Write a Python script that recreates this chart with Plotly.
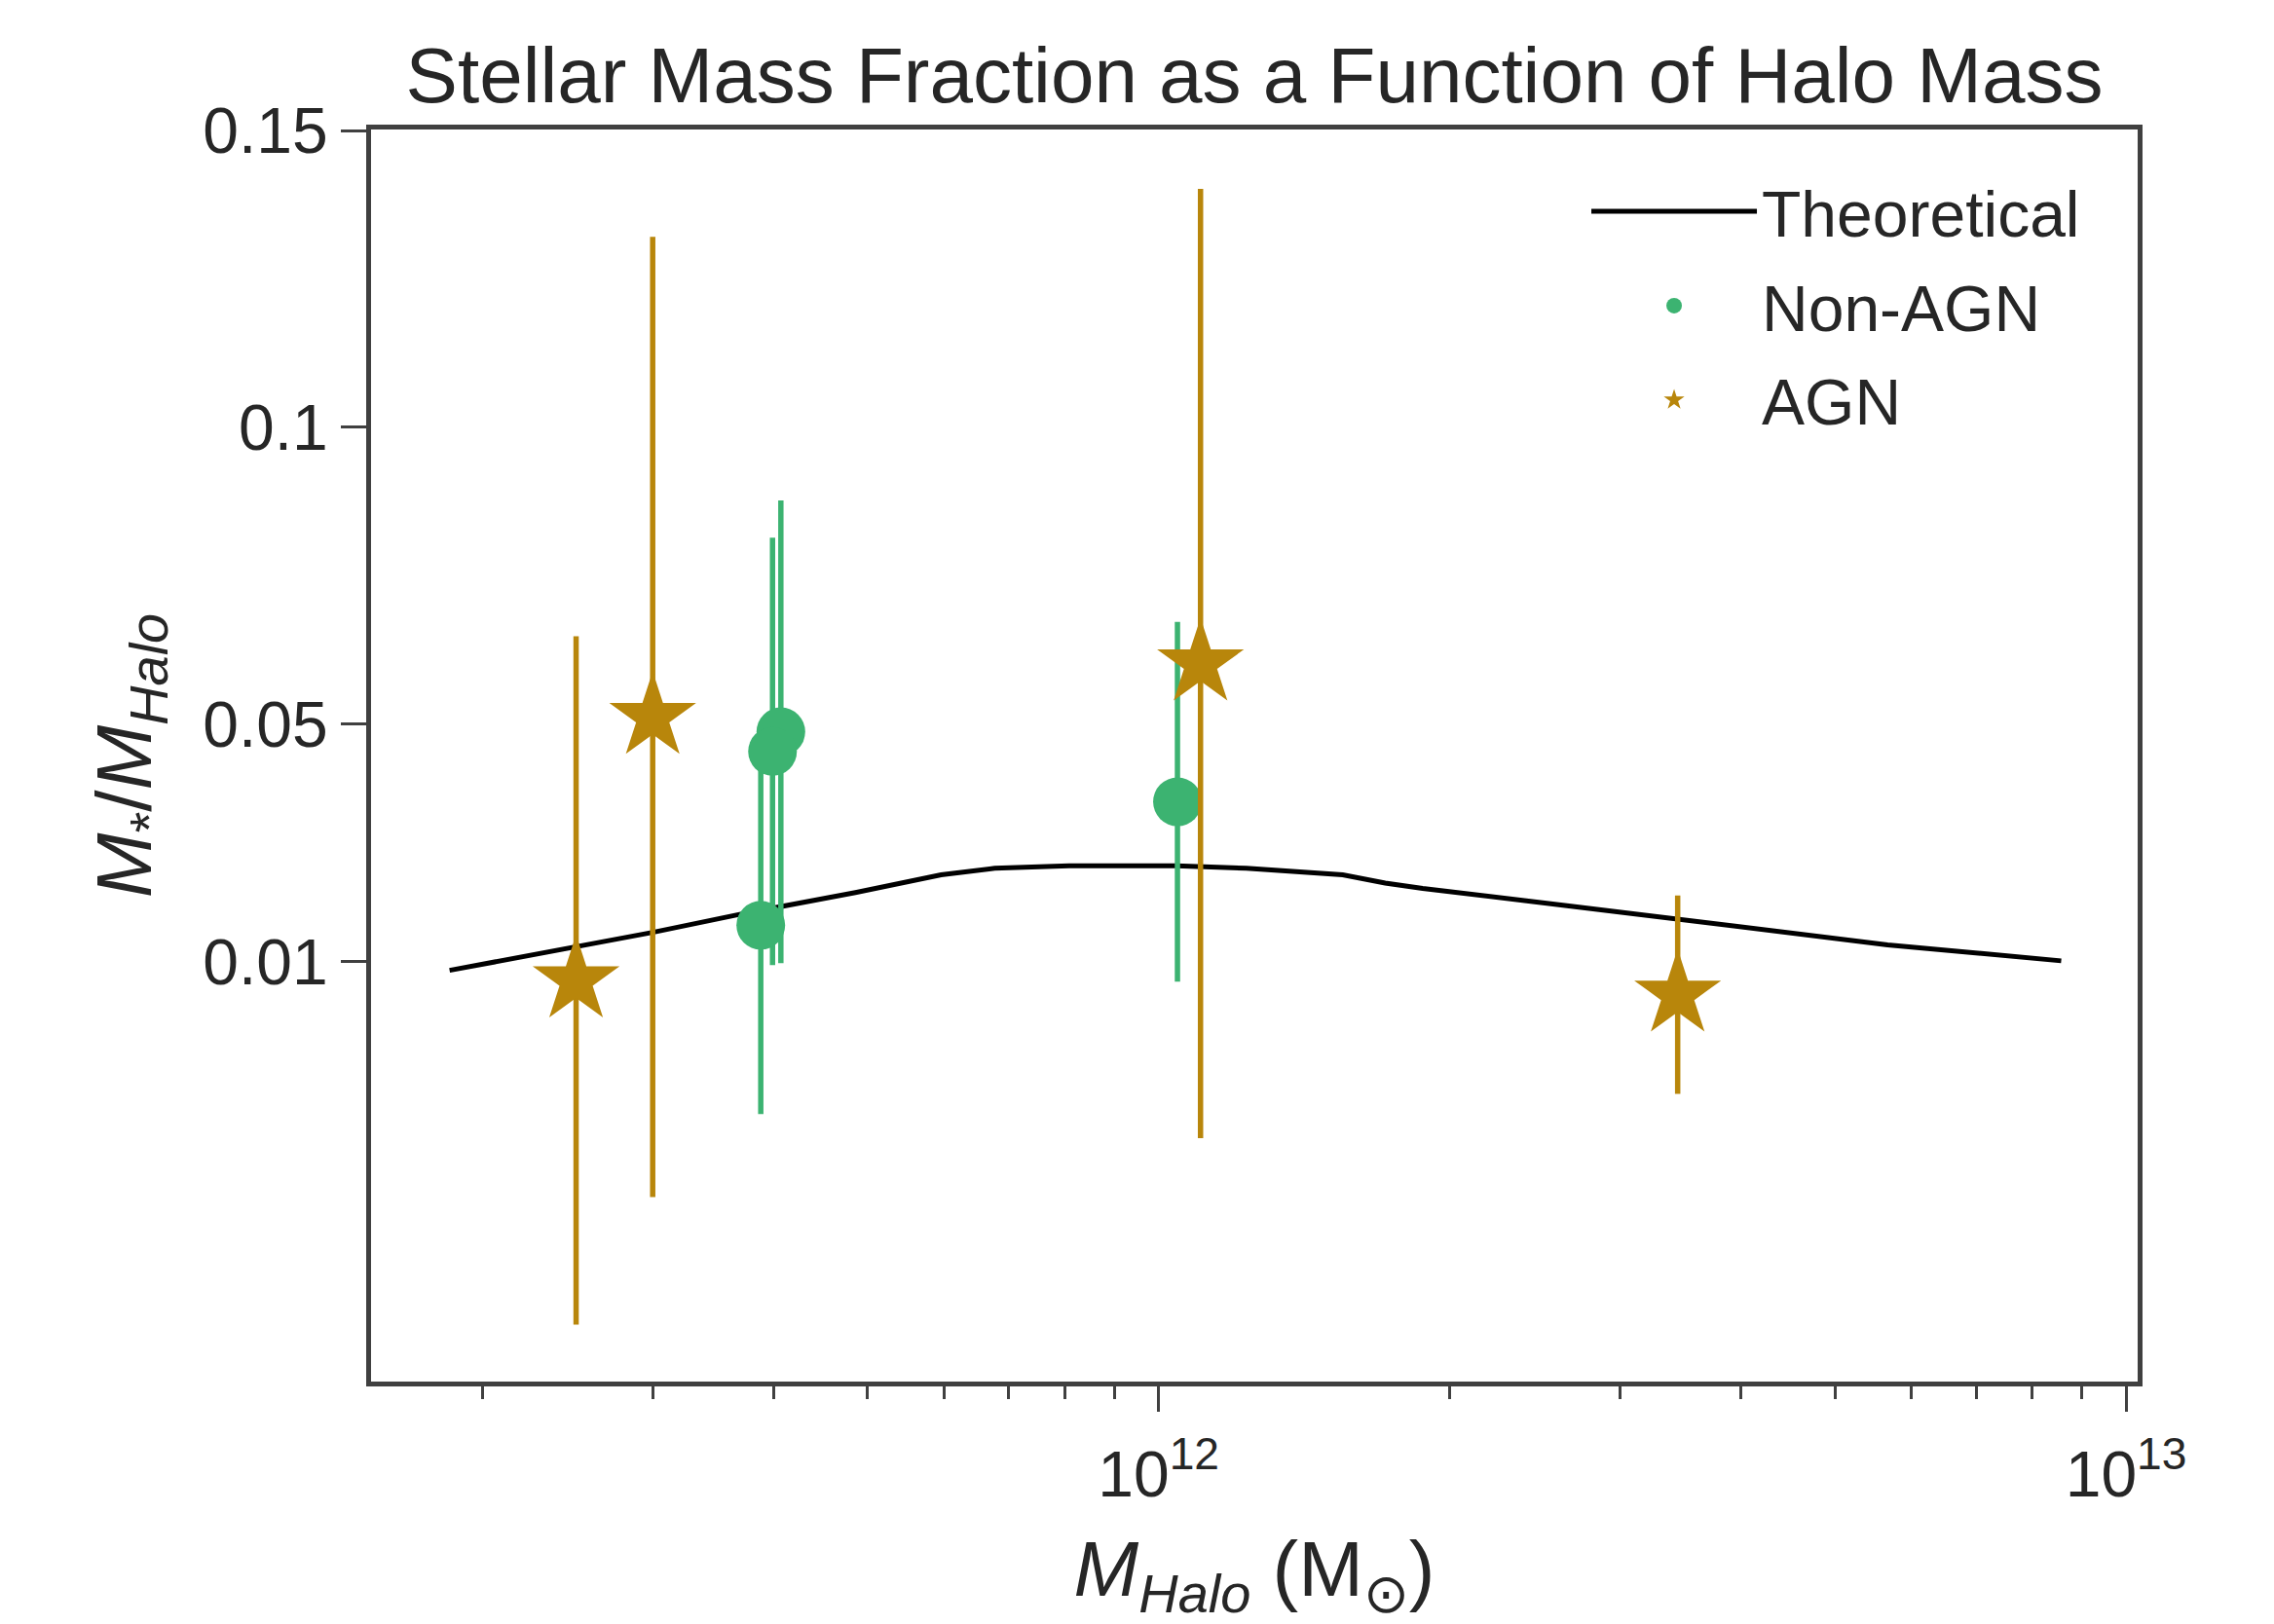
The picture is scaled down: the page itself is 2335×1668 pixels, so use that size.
import plotly.graph_objects as go

# ---------------- data ----------------
theory_mhalo = [1.85e11, 2.51e11, 3.00e11, 3.68e11, 4.86e11, 5.96e11, 6.77e11, 8.08e11,
                1.043e12, 1.232e12, 1.55e12, 1.715e12, 1.875e12, 2.643e12, 3.87e12,
                5.67e12, 8.57e12]
theory_frac = [0.0085, 0.0126, 0.0149, 0.0179, 0.0216, 0.0246, 0.0257, 0.0261,
               0.0261, 0.0257, 0.0246, 0.0232, 0.0223, 0.0194, 0.0161, 0.0128, 0.0101]

nonagn_mhalo = [3.88e11, 4.07e11, 3.99e11, 1.046e12]
nonagn_frac = [0.0161, 0.0487, 0.0454, 0.0369]
nonagn_err = [0.0318, 0.0390, 0.0360, 0.0303]

agn_mhalo = [2.50e11, 3.00e11, 1.105e12, 3.44e12]
agn_frac = [0.0068, 0.0512, 0.0602, 0.0044]
agn_err = [0.0580, 0.0809, 0.0800, 0.0167]

y_tickvals = [0.01, 0.05, 0.1, 0.15]
y_ticktext = ["0.01", "0.05", "0.1", "0.15"]
x_tickvals = [1e12, 1e13]
x_ticktext = ["10<sup>12</sup>", "10<sup>13</sup>"]
x_minor = [2e11, 3e11, 4e11, 5e11, 6e11, 7e11, 8e11, 9e11,
           2e12, 3e12, 4e12, 5e12, 6e12, 7e12, 8e12, 9e12]

GREEN = "#3CB371"
GOLD = "#B8860B"
AXC = "#404040"
TXT = "#262626"
FONT = "Liberation Sans, Arial, DejaVu Sans, sans-serif"

fig = go.Figure()

fig.add_trace(go.Scatter(
    x=theory_mhalo, y=theory_frac, mode="lines", name="Theoretical",
    line=dict(color="black", width=5), legendgroup="a"))

fig.add_trace(go.Scatter(
    x=nonagn_mhalo, y=nonagn_frac, mode="markers", name="Non-AGN",
    marker=dict(color=GREEN, size=50, symbol="circle", line=dict(width=0)),
    error_y=dict(type="data", array=nonagn_err, visible=True,
                 color=GREEN, thickness=5.5, width=0),
    legendgroup="b"))

fig.add_trace(go.Scatter(
    x=agn_mhalo, y=agn_frac, mode="markers", name="AGN",
    marker=dict(color=GOLD, size=67, symbol="star", line=dict(width=0)),
    error_y=dict(type="data", array=agn_err, visible=True,
                 color=GOLD, thickness=5.5, width=0),
    legendgroup="c"))

fig.update_layout(
    width=2335, height=1668,
    margin=dict(l=381, r=140, t=133, b=249, autoexpand=False),
    paper_bgcolor="white", plot_bgcolor="white",
    font=dict(family=FONT, color=TXT, size=66),
    title=dict(text="Stellar Mass Fraction as a Function of Halo Mass",
               x=0.5, xref="paper", xanchor="center",
               y=1 - 77 / 1668, yref="container", yanchor="middle",
               font=dict(size=80, color=TXT, family=FONT)),
    showlegend=True,
    legend=dict(x=0.688, y=0.973, xanchor="left", yanchor="top",
                bgcolor="rgba(255,255,255,0)", borderwidth=0,
                font=dict(size=66, color=TXT, family=FONT),
                traceorder="grouped", tracegroupgap=8, itemwidth=170),
)

fig.update_xaxes(
    type="log", range=[11.186, 13.012],
    tickvals=x_tickvals, ticktext=x_ticktext,
    ticks="outside", ticklen=26, tickwidth=3, tickcolor=AXC,
    ticklabelstandoff=8,
    tickfont=dict(size=66, color=TXT, family=FONT),
    minor=dict(tickvals=x_minor, ticks="outside", ticklen=13, tickwidth=2.5,
               tickcolor=AXC, showgrid=False),
    showline=True, linecolor=AXC, linewidth=5, mirror=True,
    showgrid=False, zeroline=False, automargin=False,
    title=dict(text="<i>M</i><sub><i>Halo</i></sub> (M<sub>⊙</sub>)",
               font=dict(size=80, color=TXT, family=FONT), standoff=44),
)

fig.update_yaxes(
    type="linear", range=[-0.0608, 0.1502],
    tickvals=y_tickvals, ticktext=y_ticktext,
    ticks="outside", ticklen=26, tickwidth=3, tickcolor=AXC,
    tickfont=dict(size=66, color=TXT, family=FONT),
    showline=True, linecolor=AXC, linewidth=5, mirror=True,
    showgrid=False, zeroline=False, automargin=False,
    title=dict(text="<i>M</i><sub>*</sub>/<i>M</i><sub><i>Halo</i></sub>",
               font=dict(size=80, color=TXT, family=FONT), standoff=28),
)

fig.write_html("out.html")
